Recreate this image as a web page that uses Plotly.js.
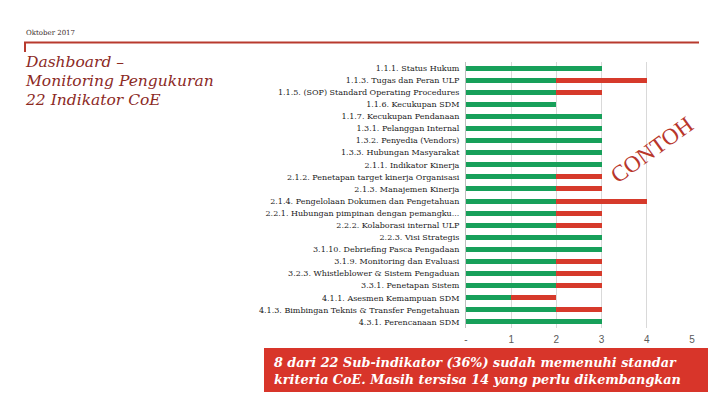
<!DOCTYPE html>
<html>
<head>
<meta charset="utf-8">
<script src="https://cdn.plot.ly/plotly-3.0.1.min.js"></script>
<style>html,body{margin:0;padding:0;background:#fff;}#chart{width:720px;height:405px;}</style>
</head>
<body>
<div id="chart"></div>
<script>
const categories = [
  "1.1.1. Status Hukum",
  "1.1.3. Tugas dan Peran ULP",
  "1.1.5. (SOP) Standard Operating Procedures",
  "1.1.6. Kecukupan SDM",
  "1.1.7. Kecukupan Pendanaan",
  "1.3.1. Pelanggan Internal",
  "1.3.2. Penyedia (Vendors)",
  "1.3.3. Hubungan Masyarakat",
  "2.1.1. Indikator Kinerja",
  "2.1.2. Penetapan target kinerja Organisasi",
  "2.1.3. Manajemen Kinerja",
  "2.1.4. Pengelolaan Dokumen dan Pengetahuan",
  "2.2.1. Hubungan pimpinan dengan pemangku...",
  "2.2.2. Kolaborasi internal ULP",
  "2.2.3. Visi Strategis",
  "3.1.10. Debriefing Pasca Pengadaan",
  "3.1.9. Monitoring dan Evaluasi",
  "3.2.3. Whistleblower & Sistem Pengaduan",
  "3.3.1. Penetapan Sistem",
  "4.1.1. Asesmen Kemampuan SDM",
  "4.1.3. Bimbingan Teknis & Transfer Pengetahuan",
  "4.3.1. Perencanaan SDM"
];
const achieved = [3,2,2,2,3,3,3,3,3,2,2,2,2,2,3,3,2,2,2,1,2,3];
const gap      = [0,2,1,0,0,0,0,0,0,1,1,2,1,1,0,0,1,1,1,1,1,0];
const xTickVals = [0,1,2,3,4,5];
const xTickText = ["-","1","2","3","4","5"];
const headerDate = "Oktober 2017";
const titleLines = ["Dashboard \u2013", "Monitoring Pengukuran", "22 Indikator CoE"];
const watermark = "CONTOH";
const noteLines = ["8 dari 22 Sub-indikator (36%) sudah memenuhi standar", "kriteria CoE. Masih tersisa 14 yang perlu dikembangkan"];

const W = 720, H = 405, ML = 466, MR = 28, MT = 62, MB = 77;
const PW = W - ML - MR, PH = H - MT - MB;
const fx = px => (px - ML) / PW;
const fy = py => (H - MB - py) / PH;

const traces = [
  {type:'bar', orientation:'h', y:categories, x:achieved, marker:{color:'#17A05A'}, hoverinfo:'skip'},
  {type:'bar', orientation:'h', y:categories, x:gap, marker:{color:'#D63A2B'}, hoverinfo:'skip'}
];

const serif = 'DejaVu Serif, Liberation Serif, serif';
const annotations = [
  {xref:'paper', yref:'paper', x:fx(24), y:fy(33), xanchor:'left', yanchor:'middle', showarrow:false,
   text:headerDate, font:{family:serif, size:7, color:'#3a2a2a'}},
  {xref:'paper', yref:'paper', x:fx(651), y:fy(150), xanchor:'center', yanchor:'middle', showarrow:false,
   text:watermark, textangle:-36, font:{family:'Liberation Serif, DejaVu Serif, serif', size:23, color:'#B8362B'}},
];
titleLines.forEach((t,i)=>annotations.push({xref:'paper', yref:'paper', x:fx(23), y:fy(62 + i*19), xanchor:'left', yanchor:'middle', showarrow:false,
   text:'<i>'+t+'</i>', font:{family:serif, size:15.5, color:'#8C2A1F'}}));
noteLines.forEach((t,i)=>annotations.push({xref:'paper', yref:'paper', x:fx(272), y:fy(362 + i*17), xanchor:'left', yanchor:'middle', showarrow:false,
   text:'<b><i>'+t+'</i></b>', font:{family:serif, size:12.8, color:'#ffffff'}}));

const shapes = [
  {type:'line', xref:'paper', yref:'paper', x0:fx(24), x1:fx(699), y0:fy(42.5), y1:fy(42.5), line:{color:'#B83A2E', width:2}},
  {type:'line', xref:'paper', yref:'paper', x0:fx(25), x1:fx(25), y0:fy(42), y1:fy(52), line:{color:'#B83A2E', width:2}},
  {type:'rect', xref:'paper', yref:'paper', x0:fx(264), x1:fx(708), y0:fy(348), y1:fy(392), fillcolor:'#D8352A', line:{width:0}, layer:'below'}
];

const layout = {
  width:W, height:H, margin:{l:ML, r:MR, t:MT, b:MB, pad:0},
  paper_bgcolor:'#ffffff', plot_bgcolor:'#ffffff',
  barmode:'stack', bargap:0.58, showlegend:false,
  xaxis:{range:[0,5], tickvals:xTickVals, ticktext:xTickText, showgrid:true, gridcolor:'#d9d9d9', gridwidth:1,
         zeroline:false, showline:false, ticks:'', ticklabelstandoff:4, fixedrange:true,
         tickfont:{family:'Liberation Sans, Arial, sans-serif', size:10, color:'#595959'}},
  yaxis:{type:'category', autorange:'reversed', showgrid:false, zeroline:false, showline:true, linecolor:'#bfbfbf', linewidth:1,
         ticks:'', ticklabelstandoff:4, fixedrange:true,
         tickfont:{family:serif, size:8, color:'#222222'}},
  annotations:annotations, shapes:shapes
};

Plotly.newPlot('chart', traces, layout, {displayModeBar:false, staticPlot:true});
</script>
</body>
</html>
